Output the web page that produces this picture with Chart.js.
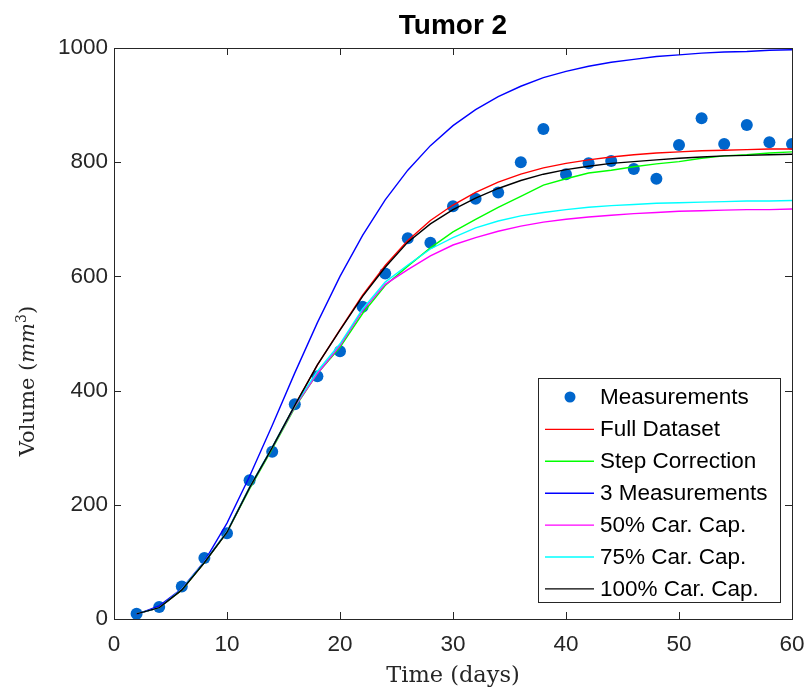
<!DOCTYPE html>
<html>
<head>
<meta charset="utf-8">
<script src="https://cdn.jsdelivr.net/npm/chart.js@4/dist/chart.umd.min.js"></script>
<style>
  html, body { margin: 0; padding: 0; background: #ffffff; }
  #wrap { width: 810px; height: 691px; position: relative; }
</style>
</head>
<body>
<div id="wrap"><canvas id="c" width="810" height="691"></canvas></div>
<script>
const days = [2,4,6,8,10,12,14,16,18,20,22,24,26,28,30,32,34,36,38,40,42,44,46,48,50,52,54,56,58,60];
const measurements = [9,21,57,107,150,243,293,376,425,469,547,605,667,659,723,736,747,800,858,779,798,802,788,771,830,877,832,865,835,832];
const fullDataset = [9,20,51,99,152,230,300,374,445,507,567,619,663,698,725,747,765,779,790,798,804,809,813,816,818,820,821,822,823,823];
const stepCorrection = [9,20,51,99,152,228,298,370,430,476,535,584,618,650,678,700,721,740,760,771,781,786,792,797,801,807,811,813,816,818];
const threeMeasurements = [8,23,53,101,168,250,339,431,519,600,672,734,786,829,864,892,915,933,948,959,968,975,980,985,988,991,993,994,996,997];
const cap50 = [9,20,52,100,153,230,300,372,430,479,540,586,612,636,655,668,679,688,695,700,704,707,710,712,714,715,716,717,717,718];
const cap75 = [9,20,52,100,153,231,301,374,434,482,543,590,620,648,668,685,697,706,712,717,721,724,726,728,729,730,731,732,732,733];
const cap100 = [9,20,51,99,152,230,300,374,445,506,565,616,660,692,717,737,754,768,779,787,793,798,801,804,807,809,811,812,813,814];
const xTicks = [0,10,20,30,40,50,60];
const yTicks = [0,200,400,600,800,1000];

const toXY = arr => arr.map((v, i) => ({x: days[i], y: v}));
const AXIS = '#262626';
const SANS = '"Liberation Sans", Arial, sans-serif';
const SERIF = '"DejaVu Serif", "Liberation Serif", serif';

function lineDs(label, data, color, order) {
  return { label, data: toXY(data), type: 'line', borderColor: color, backgroundColor: color,
    borderWidth: 1.4, pointRadius: 0, fill: false, tension: 0, order };
}

const boxPlugin = {
  id: 'boxPlugin',
  afterDraw(chart) {
    const ctx = chart.ctx, a = chart.chartArea;
    const xs = chart.scales.x, ys = chart.scales.y;
    ctx.save();
    ctx.strokeStyle = AXIS; ctx.lineWidth = 1;
    ctx.strokeRect(Math.round(a.left) + 0.5, Math.round(a.top) + 0.5, Math.round(a.right - a.left), Math.round(a.bottom - a.top));
    const tl = 7;
    ctx.beginPath();
    xTicks.forEach(t => {
      const px = Math.round(xs.getPixelForValue(t)) + 0.5;
      ctx.moveTo(px, a.bottom); ctx.lineTo(px, a.bottom - tl);
      ctx.moveTo(px, a.top); ctx.lineTo(px, a.top + tl);
    });
    yTicks.forEach(t => {
      const py = Math.round(ys.getPixelForValue(t)) + 0.5;
      ctx.moveTo(a.left, py); ctx.lineTo(a.left + tl, py);
      ctx.moveTo(a.right, py); ctx.lineTo(a.right - tl, py);
    });
    ctx.stroke();

    // title
    ctx.fillStyle = '#000000';
    ctx.font = 'bold 28px ' + SANS;
    ctx.textAlign = 'center'; ctx.textBaseline = 'middle';
    ctx.fillText('Tumor 2', (a.left + a.right) / 2, 26);

    // y-axis title with italic mm and superscript
    ctx.save();
    ctx.translate(27, 381);
    ctx.rotate(-Math.PI / 2);
    ctx.fillStyle = AXIS;
    ctx.textBaseline = 'alphabetic'; ctx.textAlign = 'left';
    const parts = [
      { t: 'Volume (', f: '21px ' + SERIF, dy: 0 },
      { t: 'mm', f: 'italic 21px ' + SERIF, dy: 0 },
      { t: '3', f: '14px ' + SERIF, dy: -8 },
      { t: ')', f: '21px ' + SERIF, dy: 0 }
    ];
    let total = 0;
    parts.forEach(p => { ctx.font = p.f; p.w = ctx.measureText(p.t).width; total += p.w; });
    let cx = -total / 2;
    parts.forEach(p => { ctx.font = p.f; ctx.fillText(p.t, cx, 7 + p.dy); cx += p.w; });
    ctx.restore();

    // legend
    const lx = 538, ly = 378, lw = 242, lh = 224;
    ctx.fillStyle = '#ffffff';
    ctx.fillRect(lx, ly, lw, lh);
    ctx.strokeStyle = AXIS;
    ctx.strokeRect(lx + 0.5, ly + 0.5, lw, lh);
    const items = chart.data.datasets;
    ctx.font = '22.5px ' + SANS;
    ctx.textBaseline = 'middle';
    ctx.textAlign = 'left';
    items.forEach((d, i) => {
      const y = 397 + i * 31.9;
      if (d.type === 'scatter') {
        ctx.fillStyle = d.backgroundColor;
        ctx.beginPath(); ctx.arc(570, y, 5.5, 0, Math.PI * 2); ctx.fill();
      } else {
        ctx.strokeStyle = d.borderColor; ctx.lineWidth = 1.4;
        ctx.beginPath(); ctx.moveTo(545, y + 0.5); ctx.lineTo(594, y + 0.5); ctx.stroke();
      }
      ctx.fillStyle = '#000000';
      ctx.fillText(d.label, 600, y + 1);
    });
    ctx.restore();
  }
};

new Chart(document.getElementById('c'), {
  data: {
    datasets: [
      { label: 'Measurements', type: 'scatter', data: toXY(measurements), backgroundColor: '#0066cc',
        borderColor: '#0066cc', pointRadius: 6, pointHoverRadius: 6, borderWidth: 0, order: 10 },
      lineDs('Full Dataset', fullDataset, '#ff0000', 6),
      lineDs('Step Correction', stepCorrection, '#00ff00', 5),
      lineDs('3 Measurements', threeMeasurements, '#0000ff', 4),
      lineDs('50% Car. Cap.', cap50, '#ff00ff', 3),
      lineDs('75% Car. Cap.', cap75, '#00ffff', 2),
      lineDs('100% Car. Cap.', cap100, '#000000', 1)
    ]
  },
  options: {
    responsive: false,
    animation: false,
    events: [],
    layout: { padding: { left: 0, right: 18, top: 48, bottom: 0 } },
    plugins: {
      legend: { display: false },
      tooltip: { enabled: false },
      title: { display: false }
    },
    scales: {
      x: { type: 'linear', min: 0, max: 60,
        afterFit(s) { s.height = 72; s.paddingLeft = 0; s.paddingRight = 0; },
        afterBuildTicks(s) { s.ticks = xTicks.map(v => ({value: v})); },
        grid: { display: false, drawTicks: false }, border: { display: false },
        ticks: { color: AXIS, padding: 12, maxRotation: 0, callback: v => String(v),
          font: { family: SANS, size: 22.5 } },
        title: { display: true, text: 'Time (days)', color: AXIS, padding: { top: 0, bottom: 1 },
          font: { family: SERIF, size: 22.5 } } },
      y: { type: 'linear', min: 0, max: 1000,
        afterFit(s) { s.width = 114; s.paddingTop = 0; s.paddingBottom = 0; },
        afterBuildTicks(s) { s.ticks = yTicks.map(v => ({value: v})); },
        grid: { display: false, drawTicks: false }, border: { display: false },
        ticks: { color: AXIS, padding: 6, callback: v => String(v),
          font: { family: SANS, size: 22.5 } },
        title: { display: false } }
    }
  },
  plugins: [boxPlugin]
});
</script>
</body>
</html>
